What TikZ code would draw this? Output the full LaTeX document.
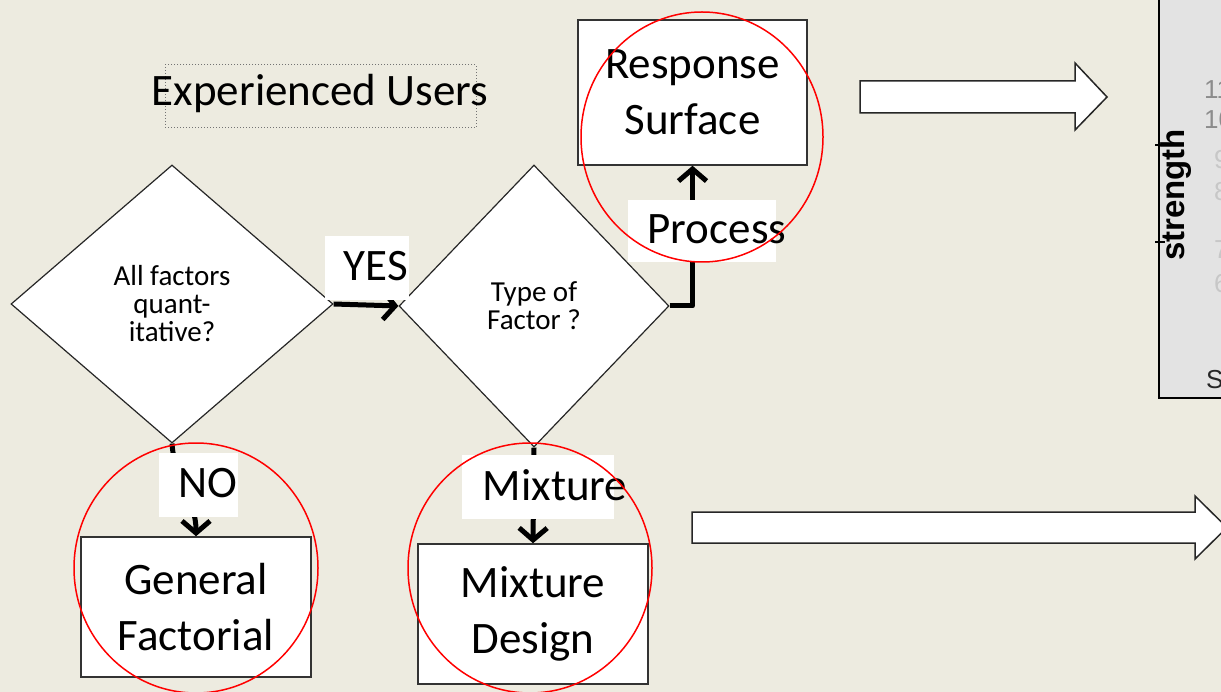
\documentclass[tikz,border=0pt]{standalone}
\usepackage{fontspec}
\setmainfont{Carlito}
\newfontfamily\arialf{Liberation Sans}
\usetikzlibrary{shapes.geometric,arrows.meta}
\definecolor{bg}{RGB}{237,235,224}
\definecolor{panel}{RGB}{227,227,227}
\newcommand\bigtxt{\fontsize{45}{56}\selectfont}
\newcommand\smalltxt{\fontsize{29}{28}\selectfont}
\tikzset{
  boxnode/.style={draw=black!80, line width=1.5pt, fill=white, minimum width=230pt, minimum height=140pt, inner sep=0pt, align=center, font=\bigtxt},
  dia/.style={diamond, draw=black!85, line width=1.2pt, fill=white, inner sep=0pt, align=center, font=\smalltxt},
  lblbox/.style={fill=white, inner sep=0pt},
  lbltext/.style={font=\bigtxt, inner sep=0pt},
  flow/.style={line width=5pt, line join=round, -{Straight Barb[length=12pt,width=28pt]}},
  redring/.style={ellipse, draw=red, line width=1.5pt, inner sep=0pt},
  blockarrow/.style={draw=black!85, line width=1.5pt, fill=white},
  chartlbl/.style={font=\arialf\fontsize{26}{26}\selectfont, inner sep=0pt, anchor=west}
}
\begin{document}
\begin{tikzpicture}[x=1pt,y=-1pt]
\useasboundingbox (0,0) rectangle (1221,692);
\clip (0,0) rectangle (1221,692);
\fill[bg] (0,0) rectangle (1221,692);

% chart panel at right
\fill[panel] (1159,-5) rectangle (1240,398);
\draw[line width=1.5pt] (1159,-5) -- (1159,398) -- (1240,398);
\draw[line width=1.5pt] (1155,145) -- (1165,145);
\draw[line width=1.5pt] (1155,242) -- (1165,242);
\node[rotate=90, font=\arialf\bfseries\fontsize{33}{33}\selectfont, inner sep=0pt] (strength) at (1176,195) {strength};
\node[chartlbl, text=black!45] (t1) at (1204,90) {11};
\node[chartlbl, text=black!45] (t2) at (1204,120) {10};
\node[chartlbl, text=black!22] (t3) at (1214,160) {9};
\node[chartlbl, text=black!22] (t4) at (1214,192) {8};
\node[chartlbl, text=black!22] (t5) at (1214,250) {7};
\node[chartlbl, text=black!22] (t6) at (1214,284) {6};
\node[chartlbl, text=black!85] (s) at (1206,380) {S};

% block arrows
\draw[blockarrow] (860,81) -- (1075,81) -- (1075,63) -- (1107,97) -- (1075,130) -- (1075,113) -- (860,113) -- cycle;
\draw[blockarrow] (692,512) -- (1195,512) -- (1195,496) -- (1227,527.5) -- (1195,559) -- (1195,543) -- (692,543) -- cycle;

% title
\node[draw=black!55, dotted, line width=1pt, minimum width=311pt, minimum height=63pt, inner sep=0pt] (titlebox) at (320.5,96.5) {};
\node[lbltext] (title) at (320,94) {Experienced Users};

% boxes
\node[boxnode, minimum width=229pt, minimum height=145pt] (rs) at (692.5,92.5) {Response\\Surface};
\node[boxnode] (gf) at (196,607) {General\\Factorial};
\node[boxnode] (md) at (533,614) {Mixture\\Design};

% diamonds
\node[dia, minimum width=322pt, minimum height=278pt] (d1) at (172,304) {All factors\\quant-\\itative?};
\node[dia, minimum width=270pt, minimum height=282pt] (d2) at (534,306) {Type of\\Factor ?};

% connectors
\draw[flow] (d1.east) -- (d2.west);
\draw[flow] (d1.south) to[out=-86,in=90] (gf.north);
\draw[flow] (d2.south) -- (md.north);
\draw[flow] (d2.east) -| (rs.south);

% labels
\node[lblbox, minimum width=84pt, minimum height=64pt] (yesbox) at (367,268) {};
\node[lbltext] (yes) at (376,266) {YES};
\node[lblbox, minimum width=79pt, minimum height=64pt] (nobox) at (198.5,485) {};
\node[lbltext] (no) at (208,483) {NO};
\node[lblbox, minimum width=152pt, minimum height=64pt] (mixbox) at (538,487) {};
\node[lbltext] (mix) at (555,485) {Mixture};
\node[lblbox, minimum width=148pt, minimum height=62pt] (procbox) at (702,231) {};
\node[lbltext] (proc) at (717,229) {Process};

% red ellipses
\node[redring, minimum width=242pt, minimum height=250pt] (e1) at (702,137) {};
\node[redring, minimum width=244pt, minimum height=250pt] (e2) at (196,568) {};
\node[redring, minimum width=244pt, minimum height=250pt] (e3) at (530,568) {};
\end{tikzpicture}
\end{document}
